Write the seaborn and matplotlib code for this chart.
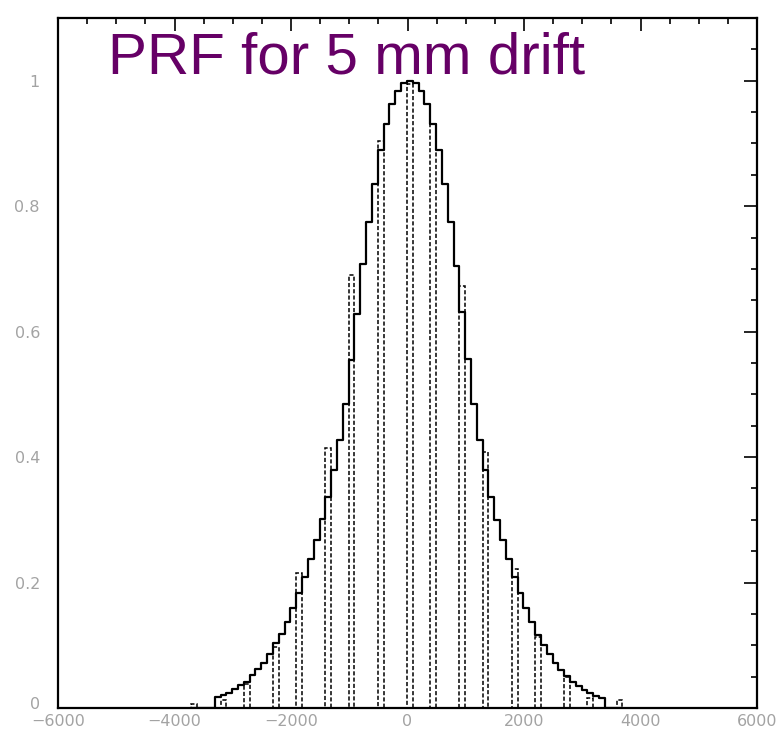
import numpy as np
import pandas as pd
import matplotlib
matplotlib.use("Agg")
import matplotlib.pyplot as plt
from matplotlib.ticker import MultipleLocator, FuncFormatter
from matplotlib.transforms import ScaledTranslation
import seaborn as sns

# fine histogram: 100 wide bins, first bin starts at -3310
bin_width = 100
first_center = -3260
prf_values = [
    0.017, 0.021, 0.024, 0.030, 0.037, 0.042, 0.053, 0.062, 0.072, 0.086,
    0.103, 0.118, 0.137, 0.159, 0.184, 0.209, 0.237, 0.268, 0.302, 0.336,
    0.379, 0.428, 0.485, 0.554, 0.628, 0.708, 0.774, 0.836, 0.889, 0.931,
    0.963, 0.983, 0.997, 1.000, 0.997, 0.983, 0.963, 0.931, 0.889, 0.836,
    0.774, 0.705, 0.631, 0.557, 0.485, 0.428, 0.379, 0.336, 0.300, 0.268,
    0.237, 0.209, 0.184, 0.159, 0.137, 0.116, 0.100, 0.086, 0.072, 0.061,
    0.051, 0.042, 0.035, 0.029, 0.024, 0.019, 0.016,
]

# sampled bins (dashed), index into the same bin grid
sample_bins = [-4, 1, 5, 10, 14, 19, 23, 28, 33, 37, 42, 46, 51, 55, 60, 64, 69]
sample_values = [0.006, 0.012, 0.039, 0.098, 0.216, 0.414, 0.690, 0.904, 0.995,
                 0.931, 0.672, 0.408, 0.222, 0.113, 0.049, 0.016, 0.012]

title_text = "PRF for 5 mm drift"


def draw_prf(ax):
    bin_range = (-3710, 3690)
    prf = pd.DataFrame({
        "pos": first_center + bin_width * np.arange(len(prf_values)),
        "val": prf_values,
    })
    samples = pd.DataFrame({
        "pos": first_center + bin_width * np.array(sample_bins),
        "val": sample_values,
    })

    # solid step histogram
    sns.histplot(data=prf, x="pos", weights="val", binwidth=bin_width,
                 binrange=bin_range, element="step", fill=False,
                 color="black", linewidth=1.6, ax=ax)
    # dashed sampled bars
    sns.histplot(data=samples, x="pos", weights="val", binwidth=bin_width,
                 binrange=bin_range, element="bars", fill=False,
                 color="black", linewidth=1.1, linestyle=(0, (2.7, 1.4)), ax=ax)


def style_axes(ax):
    ax.set_xlim(-6000, 6000)
    ax.set_ylim(0, 1.1)
    ax.set_xlabel("")
    ax.set_ylabel("")
    ax.xaxis.set_major_locator(MultipleLocator(2000))
    ax.xaxis.set_minor_locator(MultipleLocator(500))
    ax.yaxis.set_major_locator(MultipleLocator(0.2))
    ax.yaxis.set_minor_locator(MultipleLocator(0.05))
    ax.yaxis.set_major_formatter(FuncFormatter(lambda v, _: f"{v:g}"))
    ax.tick_params(which="both", direction="in", top=True, right=True,
                   color="black", width=1.2, labelcolor="#a3a3a3", labelsize=11.5)
    ax.tick_params(which="major", length=9.5)
    ax.tick_params(which="minor", length=4)
    ax.tick_params(axis="y", pad=13)
    ax.tick_params(axis="x", pad=4)
    for sp in ax.spines.values():
        sp.set_color("black")
        sp.set_linewidth(1.6)
    ax.grid(False)


def lift_zero_label(fig, ax):
    # the "0" on the y axis sits right above "-6000"; nudge it up a little
    fig.canvas.draw()
    for tick in ax.yaxis.get_major_ticks():
        if abs(tick.get_loc()) < 1e-9:
            lab = tick.label1
            lab.set_transform(lab.get_transform()
                              + ScaledTranslation(0, 3.5 / 72, fig.dpi_scale_trans))


if __name__ == "__main__":
    sns.set_style("white")
    plt.rcParams["font.family"] = ["DejaVu Sans"]

    fig = plt.figure(figsize=(7.82, 7.32), dpi=100)
    ax = fig.add_axes([58 / 782, 1 - 708 / 732, 699 / 782, 690 / 732])

    draw_prf(ax)
    style_axes(ax)

    ax.text(-5143, 1.011, title_text, ha="left", va="baseline", fontsize=42,
            color="#660066", family=["Liberation Sans", "DejaVu Sans"])

    lift_zero_label(fig, ax)
    plt.savefig("out.png", dpi=100)
